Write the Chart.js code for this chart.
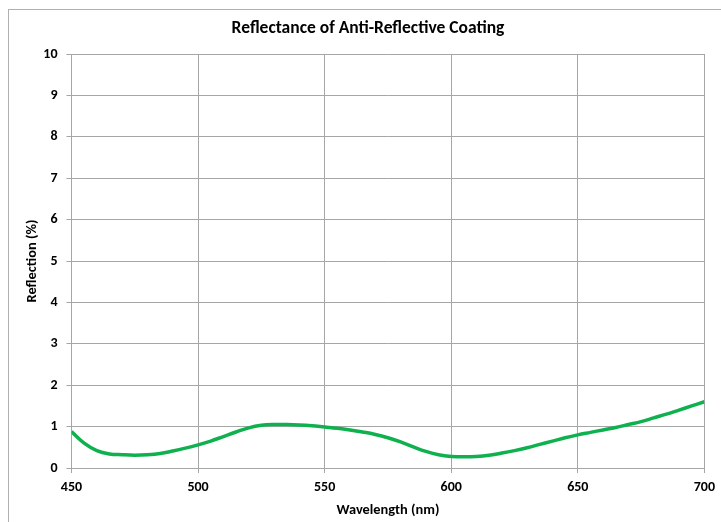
<!DOCTYPE html>
<html>
<head>
<meta charset="utf-8">
<script src="https://cdn.jsdelivr.net/npm/chart.js@4/dist/chart.umd.min.js"></script>
<style>
html,body{margin:0;padding:0;background:#fff;}
#wrap{width:721px;height:522px;position:relative;}
</style>
</head>
<body>
<div id="wrap"><canvas id="c" width="721" height="522"></canvas></div>
<script>
const wavelengths = [450,455,460,465,470,475,480,485,490,495,500,505,510,515,520,525,530,535,540,545,550,555,560,565,570,575,580,585,590,595,600,605,610,615,620,625,630,635,640,645,650,655,660,665,670,675,680,685,690,695,700];
const reflection = [0.88,0.60,0.42,0.34,0.32,0.31,0.32,0.35,0.41,0.48,0.56,0.65,0.76,0.87,0.97,1.03,1.05,1.05,1.04,1.02,0.99,0.96,0.92,0.87,0.81,0.73,0.63,0.51,0.40,0.32,0.28,0.27,0.28,0.31,0.36,0.42,0.49,0.57,0.65,0.73,0.80,0.86,0.92,0.98,1.05,1.12,1.21,1.30,1.40,1.50,1.60];
const chartTitle = "Reflectance of Anti-Reflective Coating";
const xTitle = "Wavelength (nm)";
const yTitle = "Reflection (%)";

const FONT = "Carlito, 'Liberation Sans Narrow', Lato, sans-serif";
const GRID = "#a6a6a6";

const frame = {
  id: 'frame',
  beforeDraw(chart){
    const ctx = chart.ctx;
    ctx.save();
    ctx.fillStyle = '#fff';
    ctx.fillRect(0,0,chart.width,chart.height);
    ctx.strokeStyle = '#b0b0b0';
    ctx.lineWidth = 1;
    ctx.strokeRect(8.5,9.5,760,560);
    ctx.restore();
  },
  afterDraw(chart){
    const ctx = chart.ctx;
    ctx.save();
    ctx.fillStyle = '#000';
    ctx.font = "bold 17.5px " + FONT;
    ctx.textAlign = 'center';
    ctx.textBaseline = 'middle';
    ctx.fillText(chartTitle, 368, 29);
    ctx.restore();
  }
};

new Chart(document.getElementById('c'), {
  type: 'line',
  data: {
    labels: wavelengths,
    datasets: [{
      data: wavelengths.map((w,i)=>({x:w,y:reflection[i]})),
      borderColor: '#0fb14f',
      borderWidth: 3.5,
      pointRadius: 0,
      tension: 0.4,
      fill: false
    }]
  },
  options: {
    responsive: false,
    animation: false,
    layout: { padding: { top: 54, left: 0, right: 16, bottom: 0 } },
    plugins: { legend: { display: false }, tooltip: { enabled: false }, title: { display: false } },
    scales: {
      x: {
        type: 'linear', min: 450, max: 700,
        ticks: { stepSize: 50, color: '#000', font: { family: FONT, size: 14, weight: 'bold' }, padding: 6, maxRotation: 0 },
        grid: { color: GRID, lineWidth: 1, tickLength: 5, drawTicks: true },
        border: { color: GRID, width: 1 },
        title: { display: true, text: xTitle, color: '#000', font: { family: FONT, size: 14.4, weight: 'bold' }, padding: { top: 0, bottom: 3.4 } },
        afterFit(s){ s.height = 54; }
      },
      y: {
        min: 0, max: 10,
        ticks: { stepSize: 1, color: '#000', font: { family: FONT, size: 14, weight: 'bold' }, padding: 9 },
        grid: { color: GRID, lineWidth: 1, tickLength: 5 },
        border: { color: GRID, width: 1 },
        title: { display: true, text: yTitle, color: '#000', font: { family: FONT, size: 14.4, weight: 'bold' }, padding: { top: 23.4, bottom: 0 } },
        afterFit(s){ s.width = 71.5; }
      }
    }
  },
  plugins: [frame]
});
</script>
</body>
</html>
